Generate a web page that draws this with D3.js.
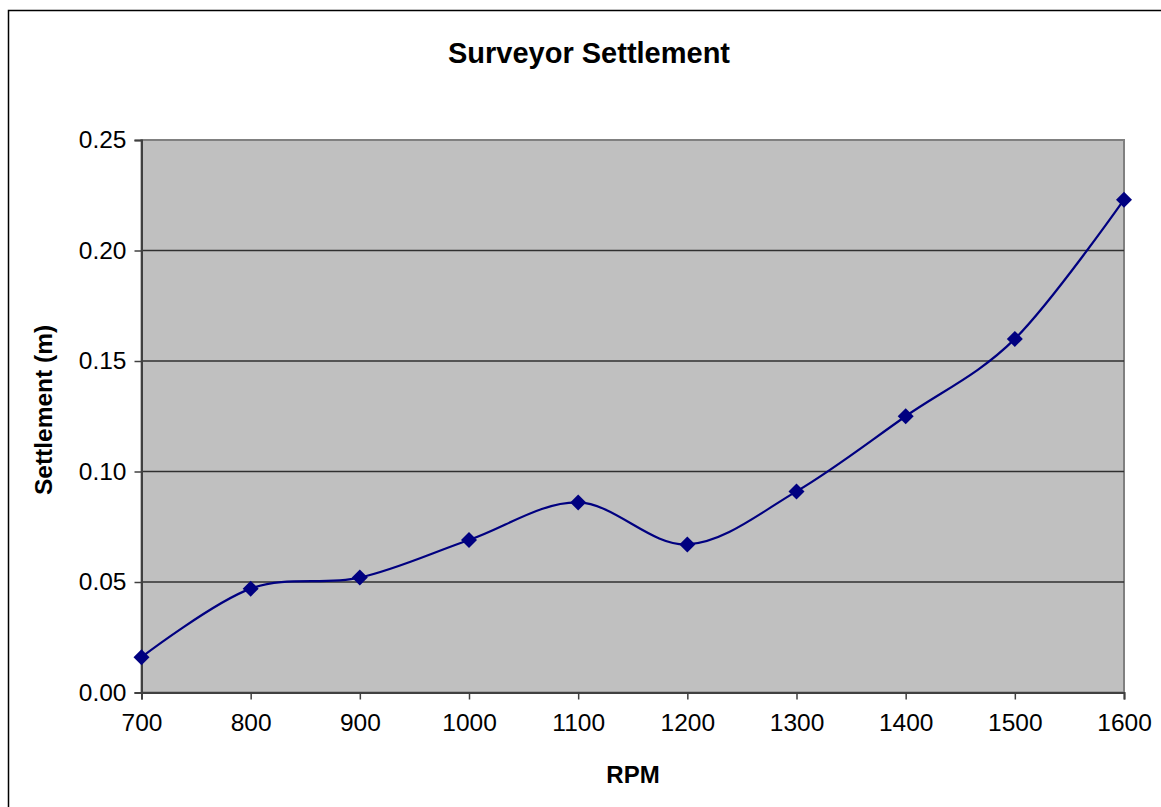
<!DOCTYPE html>
<html>
<head>
<meta charset="utf-8">
<script src="https://cdn.jsdelivr.net/npm/d3@7"></script>
<style>
  html, body { margin: 0; padding: 0; background: #fff; }
  svg { display: block; font-family: Arial, "Liberation Sans", sans-serif; }
</style>
</head>
<body>
<svg id="chart" width="1161" height="807"></svg>
<script>
// Settlement measured at each rotation speed
const rpm = [700, 800, 900, 1000, 1100, 1200, 1300, 1400, 1500, 1600];
const settlement = [0.016, 0.047, 0.052, 0.069, 0.086, 0.067, 0.091, 0.125, 0.160, 0.223];
const xTicks = [700, 800, 900, 1000, 1100, 1200, 1300, 1400, 1500, 1600];
const yTicks = [0.00, 0.05, 0.10, 0.15, 0.20, 0.25];

const svg = d3.select("#chart");
const plot = { left: 141.5, top: 140, right: 1124, bottom: 692.5 };

const x = d3.scaleLinear().domain([700, 1600]).range([plot.left, plot.right]);
const y = d3.scaleLinear().domain([0, 0.25]).range([plot.bottom, plot.top]);

// Chart frame
svg.append("rect")
  .attr("x", 8.5).attr("y", 10.5)
  .attr("width", 1200).attr("height", 900)
  .attr("fill", "#fff").attr("stroke", "#000").attr("stroke-width", 1.5);

// Plot area
svg.append("rect")
  .attr("x", plot.left).attr("y", plot.top)
  .attr("width", plot.right - plot.left).attr("height", plot.bottom - plot.top)
  .attr("fill", "#c0c0c0").attr("stroke", "#808080").attr("stroke-width", 2);

// Horizontal gridlines
svg.append("g")
  .selectAll("line")
  .data(yTicks.filter(d => d > 0 && d < 0.25))
  .join("line")
  .attr("x1", plot.left).attr("x2", plot.right)
  .attr("y1", d => y(d)).attr("y2", d => y(d))
  .attr("stroke", "#303030").attr("stroke-width", 1.3);

// Axes
const yAxis = svg.append("g")
  .attr("transform", `translate(${plot.left},0)`)
  .call(d3.axisLeft(y).tickValues(yTicks).tickFormat(d3.format(".2f")).tickSize(7).tickPadding(8));
const xAxis = svg.append("g")
  .attr("transform", `translate(0,${plot.bottom})`)
  .call(d3.axisBottom(x).tickValues(xTicks).tickFormat(d3.format("d")).tickSize(7).tickPadding(14));

[yAxis, xAxis].forEach(g => {
  g.select(".domain").attr("stroke", "#404040").attr("stroke-width", 2);
  g.selectAll(".tick line").attr("stroke", "#404040").attr("stroke-width", 1.5);
  g.selectAll(".tick text").attr("fill", "#000").style("font-size", "24.5px")
    .style("font-family", "Arial, 'Liberation Sans', sans-serif");
});

// Smoothed series line
const line = d3.line()
  .x((d, i) => x(rpm[i]))
  .y(d => y(d))
  .curve(d3.curveCatmullRom.alpha(0));

svg.append("path")
  .datum(settlement)
  .attr("d", line)
  .attr("fill", "none")
  .attr("stroke", "#000080")
  .attr("stroke-width", 2.2);

// Diamond markers
svg.append("g")
  .selectAll("path")
  .data(settlement)
  .join("path")
  .attr("transform", (d, i) => `translate(${x(rpm[i])},${y(d)})`)
  .attr("d", "M0,-8L8,0L0,8L-8,0Z")
  .attr("fill", "#000080");

// Titles
svg.append("text")
  .attr("x", 589).attr("y", 63)
  .attr("text-anchor", "middle")
  .style("font-size", "29px").style("font-weight", "bold")
  .text("Surveyor Settlement");

svg.append("text")
  .attr("x", 633).attr("y", 783)
  .attr("text-anchor", "middle")
  .style("font-size", "24px").style("font-weight", "bold")
  .text("RPM");

svg.append("text")
  .attr("transform", "translate(52,410) rotate(-90)")
  .attr("text-anchor", "middle")
  .style("font-size", "24.5px").style("font-weight", "bold")
  .text("Settlement (m)");
</script>
</body>
</html>
